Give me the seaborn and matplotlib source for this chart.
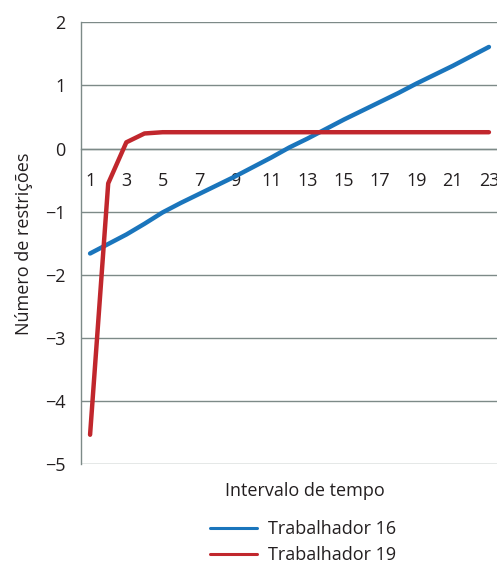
import matplotlib
matplotlib.use("Agg")
import matplotlib.pyplot as plt
import numpy as np
import pandas as pd
import seaborn as sns

intervalos = list(range(1, 24))
trab16 = [-1.66, -1.51, -1.36, -1.19, -1.01, -0.86, -0.72, -0.58, -0.44, -0.29, -0.14, 0.02,
          0.16, 0.31, 0.46, 0.60, 0.74, 0.88, 1.03, 1.17, 1.31, 1.46, 1.61]
trab19 = [-4.53, -0.55, 0.10, 0.24, 0.26, 0.26, 0.26, 0.26, 0.26, 0.26, 0.26, 0.26,
          0.26, 0.26, 0.26, 0.26, 0.26, 0.26, 0.26, 0.26, 0.26, 0.26, 0.26]
nomes = ["Trabalhador 16", "Trabalhador 19"]
cores = ["#1a75bc", "#c1272d"]

df = pd.DataFrame({"Intervalo": intervalos * 2,
                   "Valor": trab16 + trab19,
                   "Serie": [nomes[0]] * 23 + [nomes[1]] * 23})

sns.set_style("white")
plt.rcParams['font.family'] = ['Open Sans', 'DejaVu Sans']
grid_col = "#7d8a88"
txt_col = "#231f20"
fs = 13

fig = plt.figure(figsize=(4.97, 5.65), dpi=100)
ax = fig.add_axes([0.163, 0.178, 0.839, 0.7825])

for y in range(-5, 3):
    ax.axhline(y, color=grid_col, lw=1.0, zorder=0)

sns.lineplot(data=df, x="Intervalo", y="Valor", hue="Serie", palette=cores,
             lw=3.2, ax=ax, legend=False, zorder=3)

ax.set_xlim(0.5, 23.5)
ax.set_ylim(-5, 2)
ax.set_yticks(range(-5, 3))
ax.set_yticklabels([str(v).replace("-", "\u2212") for v in range(-5, 3)])

ax.set_xticks(range(1, 24, 2))
ax.set_xticklabels([str(v) for v in range(1, 24, 2)])
ax.set_xticks(np.arange(1.5, 23.5, 1), minor=True)

for s in ["top", "right"]:
    ax.spines[s].set_visible(False)
ax.spines["bottom"].set_position(("data", 0))
ax.spines["bottom"].set_color(grid_col)
ax.spines["left"].set_color(grid_col)
ax.spines["left"].set_linewidth(1.0)
ax.spines["bottom"].set_linewidth(1.0)

ax.tick_params(axis="y", length=6, color=grid_col, width=1.0, labelsize=fs,
               labelcolor=txt_col, pad=5)
ax.tick_params(axis="x", which="major", length=0, pad=17, labelsize=fs, labelcolor=txt_col)
ax.tick_params(axis="x", which="minor", length=5, color=grid_col, width=1.0, direction="out")

ax.set_xlabel("")
ax.set_ylabel("Número de restrições", fontsize=fs, color=txt_col, labelpad=9)
fig.text(0.614, 1 - 491 / 565, "Intervalo de tempo", fontsize=fs, color=txt_col,
         ha="center", va="center")

handles = [plt.Line2D([], [], color=c, lw=2.2) for c in cores]
fig.legend(handles, nomes, loc="center", bbox_to_anchor=(0.61, 1 - 542 / 565),
           frameon=False, fontsize=fs, handlelength=2.6, labelspacing=0.45,
           handletextpad=0.6, labelcolor=txt_col)

fig.savefig("out.png", dpi=100)
